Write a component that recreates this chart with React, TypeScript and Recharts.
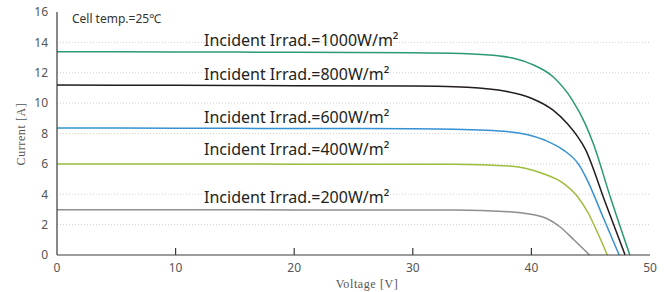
import { LineChart, Line, XAxis, YAxis, ReferenceLine, ReferenceDot } from "recharts"

// voltage [V] / current [A] pairs
const v1000 = [0, 10, 20, 30, 34, 37, 38.5, 40, 41.8, 43.45, 44.55, 45.2, 46.7, 48.3]
const i1000 = [13.39, 13.37, 13.35, 13.32, 13.27, 13.13, 12.95, 12.57, 11.75, 10.2, 8.62, 7.37, 3.7, 0]

const v800 = [0, 10, 20, 30, 33.5, 37.2, 40, 41.8, 43.0, 43.9, 44.5, 46.2, 47.9]
const i800 = [11.19, 11.17, 11.15, 11.12, 11.08, 10.86, 10.32, 9.55, 8.67, 7.79, 7.04, 3.52, 0]

const v600 = [0, 10, 20, 30, 33.5, 38.1, 41.1, 42.7, 44.0, 44.7, 46, 47.4]
const i600 = [8.36, 8.35, 8.33, 8.31, 8.28, 8.12, 7.57, 6.91, 5.95, 4.95, 2.57, 0]

const v400 = [0, 10, 20, 30, 33.5, 38.1, 40.9, 42.7, 43.9, 44.8, 45.6, 46.4]
const i400 = [5.99, 5.99, 5.98, 5.97, 5.97, 5.86, 5.38, 4.72, 3.84, 2.75, 1.43, 0]

const v200 = [0, 10, 20, 30, 33.5, 38.1, 40.9, 42.4, 43.6, 44.9]
const i200 = [2.98, 2.98, 2.97, 2.96, 2.96, 2.85, 2.52, 1.86, 0.99, 0]

const xTicks = [0, 10, 20, 30, 40, 50]
const yTicks = [0, 2, 4, 6, 8, 10, 12, 14, 16]
const gridValues = [2, 4, 6, 8, 10, 12, 14]

const irradNames = ["1000", "800", "600", "400", "200"]
// where each irradiance label sits, in chart units
const labelV = [12.4, 12.4, 12.4, 12.4, 12.4]
const labelI = [14.15, 11.92, 9.08, 6.98, 3.82]

const colors = ["#2a9a70", "#231c1c", "#3591d2", "#9dbd3c", "#8e8e8e"]

const toPoints = (v: number[], i: number[]) => v.map((x, k) => ({ v: x, i: i[k] }))

const series = [
  toPoints(v1000, i1000),
  toPoints(v800, i800),
  toPoints(v600, i600),
  toPoints(v400, i400),
  toPoints(v200, i200),
]

const font = "'Noto Sans', sans-serif"
const titleFont = "'Liberation Serif', serif"

const XTick = (props: any) => {
  const { x, y, payload } = props
  const inner = payload.value > 0 && payload.value < 50
  return (
    <g>
      {inner && <line x1={x} x2={x} y1={y} y2={y - 7} stroke="#3a3a3a" strokeWidth={1.2} />}
      <text x={x} y={y + 17} textAnchor="middle" fill="#555" fontSize={12} fontFamily={font}>
        {payload.value}
      </text>
    </g>
  )
}

export default function App() {
  return (
    <div style={{ position: "absolute", left: 0, top: 0, background: "#fff" }}>
      <LineChart width={670} height={292} margin={{ top: 12, right: 20, bottom: 0, left: 0 }}>
        {gridValues.map((g) => (
          <ReferenceLine key={g} y={g} stroke="#cfcfcf" strokeDasharray="1 2" />
        ))}
        <XAxis
          type="number"
          dataKey="v"
          domain={[0, 50]}
          ticks={xTicks}
          height={37}
          tickSize={0}
          tickMargin={0}
          tickLine={false}
          axisLine={{ stroke: "#3a3a3a", strokeWidth: 1.2 }}
          tick={<XTick />}
          label={{
            content: () => (
              <text
                x={367}
                y={288}
                textAnchor="middle"
                fill="#555"
                fontSize={12}
                letterSpacing={0.6}
                fontFamily={titleFont}
              >
                Voltage [V]
              </text>
            ),
          }}
        />
        <YAxis
          type="number"
          domain={[0, 16]}
          ticks={yTicks}
          width={57}
          tickLine={false}
          tickMargin={3}
          axisLine={{ stroke: "#3a3a3a", strokeWidth: 1.2 }}
          tick={{ fill: "#555", fontSize: 12, fontFamily: font }}
          label={{
            content: () => (
              <text
                x={25}
                y={134}
                transform="rotate(-90 25 134)"
                textAnchor="middle"
                fill="#555"
                fontSize={12}
                letterSpacing={0.6}
                fontFamily={titleFont}
              >
                Current [A]
              </text>
            ),
          }}
        />
        {series.map((d, k) => (
          <Line
            key={irradNames[k]}
            data={d}
            dataKey="i"
            type="monotone"
            stroke={colors[k]}
            strokeWidth={1.5}
            dot={false}
            activeDot={false}
            isAnimationActive={false}
          />
        ))}
        {irradNames.map((n, k) => (
          <ReferenceDot
            key={"l" + n}
            x={labelV[k]}
            y={labelI[k]}
            r={0}
            fill="none"
            stroke="none"
            label={{
              value: `Incident Irrad.=${n}W/m²`,
              position: "right",
              offset: 0,
              fill: "#231f20",
              fontSize: 16,
              fontFamily: font,
            }}
          />
        ))}
        <ReferenceDot
          x={1.26}
          y={15.54}
          r={0}
          fill="none"
          stroke="none"
          label={{
            value: "Cell temp.=25℃",
            position: "right",
            offset: 0,
            fill: "#333",
            fontSize: 12,
            fontFamily: font,
          }}
        />
      </LineChart>
    </div>
  )
}
